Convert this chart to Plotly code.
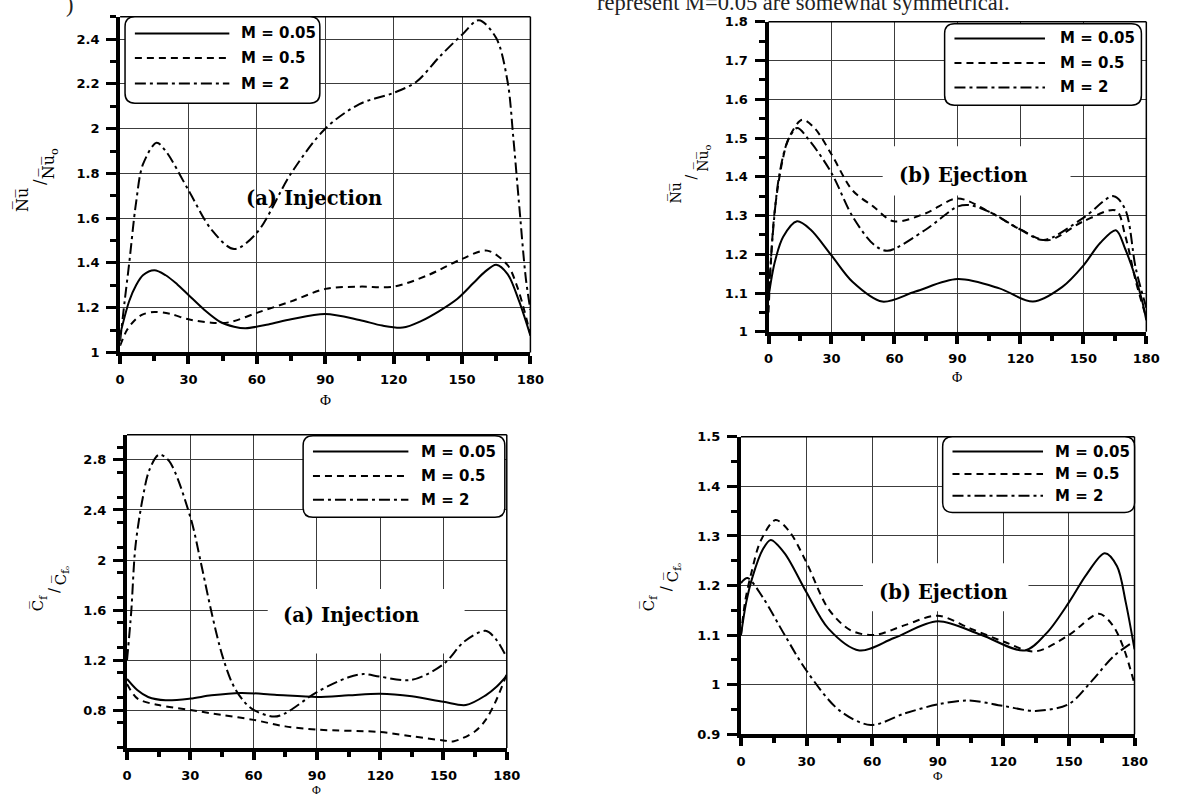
import plotly.graph_objects as go

W, H = 1180, 804

# ---------------- data ----------------
# (a) Injection: Nu / Nu_o
nu_inj_phi_m005 = [0, 4, 7, 10, 15, 20, 25, 30, 37, 44, 50, 55, 65, 75, 90, 105, 115, 124, 132, 140, 148, 155, 160, 165, 170, 175, 180]
nu_inj_val_m005 = [1.08, 1.23, 1.30, 1.345, 1.367, 1.345, 1.305, 1.257, 1.19, 1.136, 1.115, 1.108, 1.125, 1.148, 1.172, 1.145, 1.12, 1.111, 1.14, 1.185, 1.24, 1.31, 1.36, 1.392, 1.35, 1.23, 1.075]
nu_inj_phi_m05 = [0, 3, 7, 10, 15, 22, 30, 40, 48, 60, 75, 90, 105, 120, 135, 150, 161, 170, 174, 177, 180]
nu_inj_val_m05 = [1.03, 1.10, 1.15, 1.17, 1.181, 1.172, 1.148, 1.133, 1.135, 1.177, 1.228, 1.284, 1.294, 1.294, 1.345, 1.418, 1.455, 1.39, 1.30, 1.20, 1.08]
nu_inj_phi_m2 = [0, 2, 4, 7, 10, 16, 20, 30, 40, 50, 60, 75, 90, 105, 120, 130, 140, 150, 157.4, 165, 170, 172.5, 175, 178, 180]
nu_inj_val_m2 = [1.05, 1.23, 1.40, 1.67, 1.84, 1.937, 1.90, 1.725, 1.55, 1.462, 1.535, 1.80, 2.0, 2.11, 2.16, 2.21, 2.32, 2.42, 2.485, 2.405, 2.21, 1.96, 1.667, 1.33, 1.19]

# (b) Ejection: Nu / Nu_o
nu_ej_phi_m005 = [0, 3, 7, 13.6, 20, 30, 40, 54.2, 70, 90, 110, 126, 140, 150, 158, 165.5, 170, 175, 178, 180]
nu_ej_val_m005 = [1.09, 1.18, 1.245, 1.285, 1.264, 1.197, 1.129, 1.078, 1.104, 1.136, 1.112, 1.078, 1.116, 1.171, 1.229, 1.262, 1.213, 1.137, 1.08, 1.03]
nu_ej_phi_m05 = [0, 2.7, 6.6, 9.7, 16, 22, 30, 40, 50, 59.7, 75, 90, 105, 120, 133, 150, 165.5, 170, 175, 180]
nu_ej_val_m05 = [1.05, 1.30, 1.44, 1.50, 1.547, 1.525, 1.458, 1.365, 1.323, 1.285, 1.306, 1.344, 1.31, 1.264, 1.236, 1.285, 1.313, 1.247, 1.13, 1.036]
nu_ej_phi_m2 = [0, 2, 5, 9, 13.6, 20, 30, 40, 50, 56.6, 75, 90, 95.6, 105, 120, 131, 150, 164.4, 170, 175, 180]
nu_ej_val_m2 = [1.08, 1.25, 1.40, 1.49, 1.526, 1.49, 1.41, 1.298, 1.226, 1.209, 1.264, 1.323, 1.327, 1.31, 1.264, 1.237, 1.294, 1.35, 1.315, 1.163, 1.062]

# (a) Injection: Cf / Cf_o
cf_inj_phi_m005 = [0, 5, 10, 18.3, 30, 40, 54, 70, 90, 105, 120, 135, 150, 160.6, 170, 175, 180]
cf_inj_val_m005 = [1.051, 0.96, 0.907, 0.881, 0.894, 0.92, 0.939, 0.925, 0.907, 0.92, 0.933, 0.912, 0.868, 0.842, 0.92, 0.986, 1.077]
cf_inj_phi_m05 = [0, 5, 15, 30, 45, 60, 75, 90, 120, 135, 150, 155, 165, 170, 175, 180]
cf_inj_val_m05 = [1.01, 0.894, 0.842, 0.803, 0.763, 0.724, 0.672, 0.646, 0.627, 0.593, 0.56, 0.554, 0.633, 0.724, 0.881, 1.09]
cf_inj_phi_m2 = [0, 2, 4, 7.5, 10.6, 15.2, 20, 30, 35, 40, 45, 50, 55, 60, 69.6, 75, 90, 105, 112, 120, 134.9, 150, 160, 169.9, 175, 180]
cf_inj_val_m2 = [1.2, 1.587, 2.11, 2.50, 2.72, 2.842, 2.79, 2.345, 1.98, 1.587, 1.247, 1.012, 0.88, 0.803, 0.75, 0.776, 0.946, 1.064, 1.09, 1.069, 1.043, 1.169, 1.352, 1.435, 1.365, 1.22]

# (b) Ejection: Cf / Cf_o
cf_ej_phi_m005 = [0, 2.4, 5.4, 9.9, 13.6, 20, 30, 40, 54.1, 70, 90, 110, 129.9, 140, 150, 158, 166.4, 172, 176, 180]
cf_ej_val_m005 = [1.1, 1.166, 1.219, 1.272, 1.292, 1.265, 1.186, 1.113, 1.069, 1.094, 1.128, 1.1, 1.069, 1.105, 1.166, 1.222, 1.265, 1.239, 1.166, 1.071]
cf_ej_phi_m05 = [0, 2, 5, 9, 15.8, 22, 30, 40, 50, 60.9, 75, 90, 105, 120, 134.4, 150, 163.7, 170, 175, 180]
cf_ej_val_m05 = [1.1, 1.17, 1.23, 1.29, 1.332, 1.31, 1.246, 1.153, 1.11, 1.1, 1.12, 1.139, 1.113, 1.087, 1.067, 1.1, 1.143, 1.12, 1.074, 1.001]
cf_ej_phi_m2 = [0, 3, 10, 20, 30, 45, 59.4, 75, 90, 104, 120, 134.7, 150, 160.6, 170.4, 180]
cf_ej_val_m2 = [1.205, 1.215, 1.176, 1.1, 1.028, 0.948, 0.9185, 0.942, 0.96, 0.968, 0.957, 0.947, 0.961, 1.008, 1.057, 1.088]

series_names = ["M = 0.05", "M = 0.5", "M = 2"]
x_ticks = [0, 30, 60, 90, 120, 150, 180]

# ---------------- styling ----------------
DASHES = ["solid", "7px,5px", "11px,4px,3px,4px"]
TICK_FONT = dict(family="DejaVu Sans", size=13, color="black", weight="bold")
LEG_FONT = dict(family="DejaVu Sans", size=15, color="black", weight="bold")
GRID = "#3c3c3c"


def xdom(a, b):
    return [a / W, b / W]


def ydom(top, bottom):
    return [1 - bottom / H, 1 - top / H]


panels = [
    dict(n="", px=(117, 534), py=(10, 352), yr=[1, 2.5], dt=0.2, mdt=0.1,
         data=[(nu_inj_phi_m005, nu_inj_val_m005), (nu_inj_phi_m05, nu_inj_val_m05), (nu_inj_phi_m2, nu_inj_val_m2)]),
    dict(n="2", px=(776, 1160), py=(15, 331), yr=[1, 1.8], dt=0.1, mdt=0.05,
         data=[(nu_ej_phi_m005, nu_ej_val_m005), (nu_ej_phi_m05, nu_ej_val_m05), (nu_ej_phi_m2, nu_ej_val_m2)]),
    dict(n="3", px=(124, 510), py=(436, 755), yr=[0.5, 3.0], dt=0.4, mdt=0.2, t0=0.8,
         data=[(cf_inj_phi_m005, cf_inj_val_m005), (cf_inj_phi_m05, cf_inj_val_m05), (cf_inj_phi_m2, cf_inj_val_m2)]),
    dict(n="4", px=(748, 1148), py=(438, 741), yr=[0.9, 1.5], dt=0.1, mdt=0.05,
         data=[(cf_ej_phi_m005, cf_ej_val_m005), (cf_ej_phi_m05, cf_ej_val_m05), (cf_ej_phi_m2, cf_ej_val_m2)]),
]

fig = go.Figure()
shapes = []
annotations = []

for p in panels:
    n = p["n"]
    xa, ya = "x" + n, "y" + n
    for (phi, val), dash, name in zip(p["data"], DASHES, series_names):
        fig.add_trace(go.Scatter(
            x=phi, y=val, mode="lines", name=name, showlegend=False,
            line=dict(color="black", width=2, dash=dash, shape="spline", smoothing=0.9),
            xaxis=xa, yaxis=ya,
        ))
    fig.layout["xaxis" + n] = dict(
        domain=xdom(*p["px"]), range=[0, 180], anchor=ya,
        tickmode="array", tickvals=x_ticks, ticks="outside", ticklen=8, tickwidth=4,
        tickcolor="black", showline=True, linewidth=4, linecolor="black",
        showgrid=True, gridcolor=GRID, gridwidth=1, zeroline=False,
        tickfont=TICK_FONT, ticklabelstandoff=4,
        minor=dict(dtick=15, tick0=0, ticks="outside", ticklen=5, tickwidth=3.5,
                   tickcolor="black", showgrid=False),
    )
    fig.layout["yaxis" + n] = dict(
        domain=ydom(*p["py"]), range=p["yr"], anchor=xa,
        tick0=p.get("t0", p["yr"][0]), dtick=p["dt"], ticks="outside", ticklen=10,
        tickwidth=2.5, tickcolor="black", showline=True, linewidth=4, linecolor="black",
        showgrid=True, gridcolor=GRID, gridwidth=1, zeroline=False,
        tickfont=TICK_FONT, ticklabelstandoff=4,
        minor=dict(dtick=p["mdt"], tick0=p["yr"][0], ticks="outside", ticklen=6,
                   tickwidth=2.5, tickcolor="black", showgrid=False),
    )
    # thin frame on top and right
    xd, yd = xa + " domain", ya + " domain"
    shapes.append(dict(type="line", xref=xd, yref=yd, x0=0, x1=1, y0=1, y1=1,
                       line=dict(color="black", width=1.5), layer="above"))
    shapes.append(dict(type="line", xref=xd, yref=yd, x0=1, x1=1, y0=0, y1=1,
                       line=dict(color="black", width=1.5), layer="above"))


def px2paper(x, y):
    return x / W, 1 - y / H


def rounded_box(x0, y0, x1, y1, r=10):
    rx, ry = r / W, r / H
    a0, b1 = px2paper(x0, y0)
    a1, b0 = px2paper(x1, y1)
    path = (f"M{a0+rx},{b1} L{a1-rx},{b1} Q{a1},{b1} {a1},{b1-ry} "
            f"L{a1},{b0+ry} Q{a1},{b0} {a1-rx},{b0} L{a0+rx},{b0} "
            f"Q{a0},{b0} {a0},{b0+ry} L{a0},{b1-ry} Q{a0},{b1} {a0+rx},{b1} Z")
    return dict(type="path", xref="paper", yref="paper", path=path,
                fillcolor="white", line=dict(color="black", width=1.5), layer="above")


# legend boxes: (box x0, y0, x1, y1), sample line x range, text x, row ys
legends = [
    ((122, 10, 320, 98), (132, 228), 238, (27, 52, 78)),
    ((955, 17, 1155, 100), (965, 1057), 1070, (32, 57, 82)),
    ((303, 437, 508, 520), (313, 410), 421, (453, 478, 502)),
    ((953, 438, 1148, 515), (963, 1055), 1065, (453, 476, 498)),
]
for box, (lx0, lx1), tx, rows in legends:
    shapes.append(rounded_box(*box))
    for name, dash, ry in zip(series_names, DASHES, rows):
        a0, b = px2paper(lx0, ry)
        a1, _ = px2paper(lx1, ry)
        shapes.append(dict(type="line", xref="paper", yref="paper", x0=a0, x1=a1, y0=b, y1=b,
                           line=dict(color="black", width=2, dash=dash), layer="above"))
        ax, ay = px2paper(tx, ry)
        annotations.append(dict(text=name, x=ax, y=ay, xref="paper", yref="paper",
                                xanchor="left", yanchor="middle", showarrow=False, font=LEG_FONT))

# white patches behind the case labels (between grid and curves)
masks = [
    ("2", (54.4, 143.9), (1.352, 1.479)),
    ("3", (66.7, 160.0), (1.255, 1.77)),
    ("4", (55.8, 131.5), (1.148, 1.245)),
]
for n, (x0, x1), (y0, y1) in masks:
    shapes.append(dict(type="rect", xref="x" + n, yref="y" + n, x0=x0, x1=x1, y0=y0, y1=y1,
                       fillcolor="white", line=dict(width=0), layer="between"))

# case labels
case_labels = [("(a) Injection", 314, 195), ("(b) Ejection", 974, 172),
               ("(a) Injection", 352, 620), ("(b) Ejection", 954, 597)]
for txt, x, y in case_labels:
    ax, ay = px2paper(x, y)
    annotations.append(dict(text=txt, x=ax, y=ay, xref="paper", yref="paper", showarrow=False,
                            xanchor="center", yanchor="middle",
                            font=dict(family="DejaVu Serif", size=19.5, color="black", weight="bold")))

# x-axis titles
for x, y, s in [(326, 400, 15), (968, 378, 14), (317, 798, 12), (948, 783, 13)]:
    ax, ay = px2paper(x, y)
    annotations.append(dict(text="Φ", x=ax, y=ay, xref="paper", yref="paper", showarrow=False,
                            xanchor="center", yanchor="middle",
                            font=dict(family="Liberation Serif", size=s, color="black")))

# y-axis titles written as slanted fractions
OV = "\u0305"
nu_top = "N" + OV + "u" + OV
nu_bot = "N" + OV + "u" + OV + "<sub>o</sub>"
cf_top = "C" + OV + "<sub>f</sub>"
cf_bot = "C" + OV + "<sub>f\u2092</sub>"
ytitles = [
    (nu_top, (18, 197), (35, 178), nu_bot, (45, 160), 16),
    (nu_top, (682, 190), (697, 173), nu_bot, (709, 154), 14),
    (cf_top, (34, 607), (50, 594), cf_bot, (57, 580), 15),
    (cf_top, (654, 607), (672, 592), cf_bot, (679, 577), 15),
]
for top, ptop, pslash, bot, pbot, s in ytitles:
    for txt, (x, y) in [(top, ptop), ("/", pslash), (bot, pbot)]:
        ax, ay = px2paper(x, y)
        annotations.append(dict(text=txt, x=ax, y=ay, xref="paper", yref="paper", showarrow=False,
                                xanchor="center", yanchor="middle", textangle=-90,
                                font=dict(family="DejaVu Serif", size=s, color="black")))

# running text fragments cut at the top edge of the page
annotations.append(dict(text="represent M=0.05 are somewhat symmetrical.", x=600 / W, y=1 + 5 / H,
                        xref="paper", yref="paper", xanchor="left", yanchor="middle", showarrow=False,
                        font=dict(family="Liberation Serif", size=22.5, color="#222")))
annotations.append(dict(text=")", x=66 / W, y=1 + 3 / H, xref="paper", yref="paper",
                        xanchor="center", yanchor="middle", showarrow=False,
                        font=dict(family="Liberation Serif", size=22.5, color="#222")))

fig.update_layout(
    width=W, height=H, margin=dict(l=0, r=0, t=0, b=0),
    paper_bgcolor="white", plot_bgcolor="white",
    showlegend=False, shapes=shapes, annotations=annotations,
)

fig.write_html("out.html")
